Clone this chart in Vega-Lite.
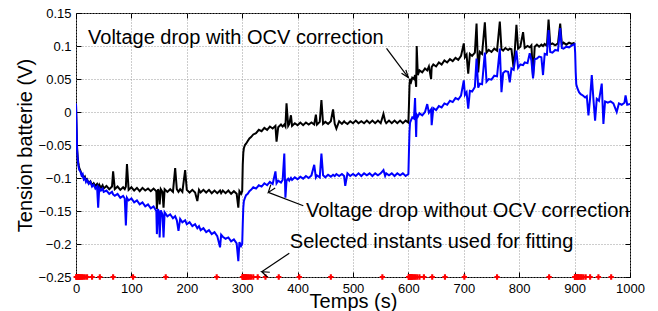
{
  "$schema": "https://vega.github.io/schema/vega-lite/v6.json",
  "width": 554,
  "height": 264,
  "autosize": {"type": "none"},
  "padding": {"left": 76, "top": 13, "right": 28, "bottom": 34},
  "background": "white",
  "config": {
    "font": "Liberation Sans",
    "view": {"stroke": "black", "strokeWidth": 1},
    "axis": {
      "domain": false,
      "tickColor": "black",
      "tickSize": -5,
      "labelPadding": 10,
      "labelFont": "Liberation Sans",
      "labelFontSize": 13,
      "labelColor": "black",
      "titleFont": "Liberation Sans",
      "titleFontSize": 20,
      "titleFontWeight": "normal",
      "titleColor": "black",
      "gridColor": "#9a9a9a",
      "gridDash": [1, 2],
      "gridWidth": 1
    }
  },
  "datasets": {
    "series": [
      {"t":0,"b":0.012,"u":0.013},
      {"t":1,"b":-0.025,"u":-0.02},
      {"t":2,"b":-0.055,"u":-0.058},
      {"t":3,"b":-0.068,"u":-0.07},
      {"t":4,"b":-0.076,"u":-0.079},
      {"t":5,"b":-0.081,"u":-0.084},
      {"t":6,"b":-0.085,"u":-0.088},
      {"t":8,"b":-0.089,"u":-0.09},
      {"t":10,"b":-0.094,"u":-0.096},
      {"t":12,"b":-0.096,"u":-0.094},
      {"t":14,"b":-0.1,"u":-0.102},
      {"t":16,"b":-0.098,"u":-0.1},
      {"t":18,"b":-0.104,"u":-0.106},
      {"t":20,"b":-0.102,"u":-0.103},
      {"t":23,"b":-0.108,"u":-0.109},
      {"t":26,"b":-0.105,"u":-0.106},
      {"t":29,"b":-0.111,"u":-0.113},
      {"t":32,"b":-0.108,"u":-0.11},
      {"t":35,"b":-0.112,"u":-0.116},
      {"t":38,"b":-0.109,"u":-0.113},
      {"t":40,"b":-0.114,"u":-0.145},
      {"t":42,"b":-0.11,"u":-0.115},
      {"t":45,"b":-0.115,"u":-0.119},
      {"t":48,"b":-0.111,"u":-0.116},
      {"t":50,"b":-0.116,"u":-0.121},
      {"t":55,"b":-0.112,"u":-0.119},
      {"t":60,"b":-0.117,"u":-0.124},
      {"t":65,"b":-0.113,"u":-0.121},
      {"t":67,"b":-0.09,"u":-0.125},
      {"t":70,"b":-0.117,"u":-0.127},
      {"t":75,"b":-0.113,"u":-0.124},
      {"t":80,"b":-0.118,"u":-0.13},
      {"t":85,"b":-0.114,"u":-0.127},
      {"t":88,"b":-0.117,"u":-0.131},
      {"t":90,"b":-0.113,"u":-0.172},
      {"t":92,"b":-0.079,"u":-0.13},
      {"t":95,"b":-0.118,"u":-0.134},
      {"t":100,"b":-0.114,"u":-0.131},
      {"t":105,"b":-0.119,"u":-0.137},
      {"t":110,"b":-0.115,"u":-0.134},
      {"t":115,"b":-0.12,"u":-0.14},
      {"t":120,"b":-0.115,"u":-0.137},
      {"t":125,"b":-0.119,"u":-0.143},
      {"t":130,"b":-0.116,"u":-0.14},
      {"t":135,"b":-0.12,"u":-0.146},
      {"t":140,"b":-0.116,"u":-0.143},
      {"t":145,"b":-0.12,"u":-0.15},
      {"t":146,"b":-0.147,"u":-0.185},
      {"t":148,"b":-0.117,"u":-0.147},
      {"t":150,"b":-0.121,"u":-0.153},
      {"t":151,"b":-0.14,"u":-0.19},
      {"t":153,"b":-0.117,"u":-0.149},
      {"t":156,"b":-0.121,"u":-0.155},
      {"t":158,"b":-0.145,"u":-0.19},
      {"t":160,"b":-0.117,"u":-0.152},
      {"t":165,"b":-0.121,"u":-0.158},
      {"t":170,"b":-0.117,"u":-0.155},
      {"t":175,"b":-0.121,"u":-0.161},
      {"t":179,"b":-0.085,"u":-0.158},
      {"t":182,"b":-0.117,"u":-0.164},
      {"t":185,"b":-0.121,"u":-0.18},
      {"t":188,"b":-0.117,"u":-0.162},
      {"t":192,"b":-0.121,"u":-0.167},
      {"t":197,"b":-0.088,"u":-0.164},
      {"t":200,"b":-0.118,"u":-0.17},
      {"t":205,"b":-0.122,"u":-0.167},
      {"t":210,"b":-0.118,"u":-0.173},
      {"t":215,"b":-0.122,"u":-0.17},
      {"t":219,"b":-0.135,"u":-0.176},
      {"t":222,"b":-0.118,"u":-0.173},
      {"t":225,"b":-0.122,"u":-0.179},
      {"t":230,"b":-0.118,"u":-0.176},
      {"t":235,"b":-0.122,"u":-0.182},
      {"t":240,"b":-0.118,"u":-0.179},
      {"t":245,"b":-0.123,"u":-0.185},
      {"t":250,"b":-0.119,"u":-0.182},
      {"t":255,"b":-0.123,"u":-0.188},
      {"t":260,"b":-0.119,"u":-0.205},
      {"t":262,"b":-0.123,"u":-0.186},
      {"t":265,"b":-0.119,"u":-0.189},
      {"t":270,"b":-0.123,"u":-0.192},
      {"t":275,"b":-0.119,"u":-0.19},
      {"t":280,"b":-0.124,"u":-0.196},
      {"t":285,"b":-0.12,"u":-0.193},
      {"t":290,"b":-0.124,"u":-0.199},
      {"t":293,"b":-0.145,"u":-0.226},
      {"t":295,"b":-0.12,"u":-0.197},
      {"t":298,"b":-0.124,"u":-0.203},
      {"t":300,"b":-0.12,"u":-0.2},
      {"t":301,"b":-0.08,"u":-0.17},
      {"t":302,"b":-0.062,"u":-0.145},
      {"t":303,"b":-0.055,"u":-0.135},
      {"t":305,"b":-0.05,"u":-0.13},
      {"t":307,"b":-0.048,"u":-0.126},
      {"t":310,"b":-0.044,"u":-0.124},
      {"t":313,"b":-0.04,"u":-0.12},
      {"t":316,"b":-0.038,"u":-0.118},
      {"t":320,"b":-0.034,"u":-0.114},
      {"t":325,"b":-0.032,"u":-0.116},
      {"t":330,"b":-0.027,"u":-0.111},
      {"t":335,"b":-0.029,"u":-0.113},
      {"t":340,"b":-0.024,"u":-0.108},
      {"t":345,"b":-0.027,"u":-0.111},
      {"t":350,"b":-0.022,"u":-0.106},
      {"t":355,"b":-0.025,"u":-0.109},
      {"t":360,"b":-0.021,"u":-0.09},
      {"t":362,"b":-0.045,"u":-0.108},
      {"t":365,"b":-0.023,"u":-0.104},
      {"t":370,"b":-0.019,"u":-0.107},
      {"t":373,"b":-0.022,"u":-0.103},
      {"t":376,"b":-0.019,"u":-0.063},
      {"t":378,"b":-0.022,"u":-0.13},
      {"t":380,"b":0.013,"u":-0.104},
      {"t":383,"b":-0.021,"u":-0.101},
      {"t":385,"b":-0.018,"u":-0.104},
      {"t":388,"b":-0.005,"u":-0.1},
      {"t":390,"b":-0.021,"u":-0.103},
      {"t":395,"b":-0.017,"u":-0.099},
      {"t":400,"b":-0.02,"u":-0.102},
      {"t":405,"b":-0.016,"u":-0.098},
      {"t":410,"b":-0.02,"u":-0.101},
      {"t":415,"b":-0.016,"u":-0.097},
      {"t":420,"b":-0.019,"u":-0.1},
      {"t":425,"b":-0.016,"u":-0.096},
      {"t":430,"b":-0.019,"u":-0.08},
      {"t":433,"b":-0.004,"u":-0.099},
      {"t":435,"b":-0.019,"u":-0.096},
      {"t":440,"b":-0.015,"u":-0.099},
      {"t":443,"b":0.018,"u":-0.063},
      {"t":446,"b":-0.018,"u":-0.096},
      {"t":450,"b":-0.015,"u":-0.099},
      {"t":455,"b":-0.018,"u":-0.095},
      {"t":460,"b":-0.014,"u":-0.098},
      {"t":464,"b":0.004,"u":-0.095},
      {"t":467,"b":-0.018,"u":-0.097},
      {"t":470,"b":-0.025,"u":-0.094},
      {"t":475,"b":-0.014,"u":-0.097},
      {"t":480,"b":-0.018,"u":-0.094},
      {"t":484,"b":-0.014,"u":-0.097},
      {"t":486,"b":-0.016,"u":-0.112},
      {"t":490,"b":-0.018,"u":-0.093},
      {"t":495,"b":-0.014,"u":-0.097},
      {"t":500,"b":-0.017,"u":-0.094},
      {"t":505,"b":-0.013,"u":-0.097},
      {"t":510,"b":-0.017,"u":-0.093},
      {"t":515,"b":-0.014,"u":-0.097},
      {"t":520,"b":-0.017,"u":-0.093},
      {"t":525,"b":-0.013,"u":-0.096},
      {"t":530,"b":-0.017,"u":-0.093},
      {"t":535,"b":-0.013,"u":-0.097},
      {"t":540,"b":-0.017,"u":-0.093},
      {"t":545,"b":-0.013,"u":-0.096},
      {"t":550,"b":-0.017,"u":-0.093},
      {"t":555,"b":-0.003,"u":-0.088},
      {"t":558,"b":-0.014,"u":-0.097},
      {"t":560,"b":-0.017,"u":-0.093},
      {"t":565,"b":-0.013,"u":-0.096},
      {"t":570,"b":-0.017,"u":-0.093},
      {"t":575,"b":-0.013,"u":-0.097},
      {"t":580,"b":-0.017,"u":-0.093},
      {"t":585,"b":-0.013,"u":-0.096},
      {"t":590,"b":-0.017,"u":-0.093},
      {"t":595,"b":-0.013,"u":-0.097},
      {"t":600,"b":-0.016,"u":-0.094},
      {"t":601,"b":0.01,"u":-0.06},
      {"t":602,"b":0.04,"u":-0.03},
      {"t":603,"b":0.05,"u":-0.016},
      {"t":605,"b":0.046,"u":-0.012},
      {"t":607,"b":0.052,"u":-0.008},
      {"t":610,"b":0.05,"u":-0.01},
      {"t":612,"b":0.056,"u":0.021},
      {"t":614,"b":0.038,"u":-0.038},
      {"t":615,"b":0.1,"u":-0.004},
      {"t":617,"b":0.056,"u":-0.007},
      {"t":620,"b":0.063,"u":-0.002},
      {"t":625,"b":0.06,"u":-0.005},
      {"t":630,"b":0.066,"u":0.0},
      {"t":634,"b":0.063,"u":0.012},
      {"t":637,"b":0.069,"u":-0.001},
      {"t":641,"b":0.05,"u":0.004},
      {"t":642,"b":0.068,"u":-0.02},
      {"t":645,"b":0.072,"u":0.006},
      {"t":650,"b":0.069,"u":0.003},
      {"t":655,"b":0.075,"u":0.009},
      {"t":660,"b":0.072,"u":0.007},
      {"t":665,"b":0.078,"u":0.013},
      {"t":670,"b":0.075,"u":0.011},
      {"t":675,"b":0.08,"u":0.017},
      {"t":680,"b":0.077,"u":0.015},
      {"t":685,"b":0.082,"u":0.021},
      {"t":690,"b":0.079,"u":0.019},
      {"t":695,"b":0.085,"u":0.025},
      {"t":700,"b":0.104,"u":0.048},
      {"t":702,"b":0.083,"u":0.026},
      {"t":705,"b":0.087,"u":0.03},
      {"t":708,"b":0.058,"u":0.005},
      {"t":711,"b":0.088,"u":0.032},
      {"t":715,"b":0.085,"u":0.031},
      {"t":720,"b":0.09,"u":0.038},
      {"t":723,"b":0.134,"u":0.081},
      {"t":726,"b":0.06,"u":0.037},
      {"t":729,"b":0.091,"u":0.043},
      {"t":733,"b":0.088,"u":0.042},
      {"t":738,"b":0.136,"u":0.09},
      {"t":741,"b":0.09,"u":0.046},
      {"t":745,"b":0.094,"u":0.05},
      {"t":750,"b":0.091,"u":0.049},
      {"t":755,"b":0.096,"u":0.055},
      {"t":760,"b":0.093,"u":0.054},
      {"t":765,"b":0.137,"u":0.096},
      {"t":768,"b":0.095,"u":0.03},
      {"t":771,"b":0.093,"u":0.059},
      {"t":775,"b":0.097,"u":0.062},
      {"t":780,"b":0.094,"u":0.061},
      {"t":783,"b":0.096,"u":0.045},
      {"t":786,"b":0.095,"u":0.066},
      {"t":790,"b":0.066,"u":0.064},
      {"t":795,"b":0.132,"u":0.093},
      {"t":798,"b":0.096,"u":0.067},
      {"t":802,"b":0.099,"u":0.072},
      {"t":807,"b":0.121,"u":0.071},
      {"t":810,"b":0.097,"u":0.075},
      {"t":815,"b":0.1,"u":0.074},
      {"t":819,"b":0.098,"u":0.089},
      {"t":822,"b":0.101,"u":0.078},
      {"t":825,"b":0.054,"u":0.051},
      {"t":828,"b":0.099,"u":0.08},
      {"t":832,"b":0.102,"u":0.081},
      {"t":836,"b":0.099,"u":0.084},
      {"t":840,"b":0.102,"u":0.083},
      {"t":843,"b":0.1,"u":0.056},
      {"t":846,"b":0.103,"u":0.088},
      {"t":850,"b":0.1,"u":0.087},
      {"t":853,"b":0.14,"u":0.124},
      {"t":856,"b":0.102,"u":0.091},
      {"t":860,"b":0.104,"u":0.09},
      {"t":865,"b":0.101,"u":0.094},
      {"t":870,"b":0.104,"u":0.093},
      {"t":874,"b":0.134,"u":0.127},
      {"t":877,"b":0.102,"u":0.097},
      {"t":880,"b":0.105,"u":0.096},
      {"t":885,"b":0.102,"u":0.099},
      {"t":890,"b":0.105,"u":0.098},
      {"t":895,"b":0.103,"u":0.101},
      {"t":900,"b":0.105,"u":0.103},
      {"t":901,"u":0.09},
      {"t":902,"u":0.06},
      {"t":903,"u":0.042},
      {"t":905,"u":0.036},
      {"t":908,"u":0.03},
      {"t":911,"u":0.027},
      {"t":915,"u":0.025},
      {"t":919,"u":0.022},
      {"t":922,"u":0.024},
      {"t":925,"u":-0.005},
      {"t":928,"u":0.021},
      {"t":931,"u":0.056},
      {"t":934,"u":0.019},
      {"t":937,"u":-0.013},
      {"t":940,"u":0.02},
      {"t":944,"u":0.017},
      {"t":949,"u":0.043},
      {"t":952,"u":-0.018},
      {"t":955,"u":0.016},
      {"t":960,"u":0.014},
      {"t":965,"u":0.016},
      {"t":970,"u":0.013},
      {"t":976,"u":0.0},
      {"t":980,"u":0.013},
      {"t":985,"u":0.011},
      {"t":990,"u":0.014},
      {"t":992,"u":0.025},
      {"t":995,"u":0.011},
      {"t":1000,"u":0.012}
    ],
    "selected": [
      {"t":0.5},{"t":1},{"t":1.5},{"t":2},{"t":3},{"t":4},{"t":5},{"t":6},{"t":7},{"t":9},{"t":11},{"t":13},{"t":16},{"t":20},{"t":29},{"t":43},{"t":67},{"t":103},{"t":162},{"t":254},
      {"t":300.5},{"t":301},{"t":301.5},{"t":302},{"t":303},{"t":304},{"t":305},{"t":306},{"t":307},{"t":309},{"t":311},{"t":313},{"t":316},{"t":320},{"t":328},{"t":342},{"t":366},{"t":403},{"t":460},{"t":553},
      {"t":600.5},{"t":601},{"t":601.5},{"t":602},{"t":603},{"t":604},{"t":605},{"t":606},{"t":607},{"t":609},{"t":611},{"t":613},{"t":616},{"t":620},{"t":628},{"t":643},{"t":666},{"t":701},{"t":760},{"t":854},
      {"t":900.5},{"t":901},{"t":901.5},{"t":902},{"t":903},{"t":904},{"t":905},{"t":906},{"t":907},{"t":909},{"t":911},{"t":913},{"t":916},{"t":920},{"t":928},{"t":943},{"t":966}
    ],
    "arrows": [
      {"id":"a1","t":560.5,"v":0.0963,"t2":600,"v2":0.0522},
      {"id":"a2","t":410.3,"v":-0.142,"t2":347.1,"v2":-0.1218},
      {"id":"a3","t":385,"v":-0.214,"t2":335.2,"v2":-0.2419}
    ],
    "labels": [
      {"t":21.7,"v":0.1024,"text":"Voltage drop with OCV correction"},
      {"t":415,"v":-0.1598,"text":"Voltage drop without OCV correction"},
      {"t":386,"v":-0.2054,"text":"Selected instants used for fitting"}
    ]
  },
  "resolve": {"axis": {"x": "independent", "y": "independent"}},
  "layer": [
    {
      "data": {"name": "series"},
      "mark": {"type": "line", "color": "black", "strokeWidth": 2, "clip": true},
      "encoding": {
        "x": {"field": "t", "type": "quantitative",
              "scale": {"domain": [0, 1000], "nice": false, "zero": false},
              "axis": {"title": "Temps (s)", "values": [0,100,200,300,400,500,600,700,800,900,1000], "format": "d", "grid": true, "titlePadding": -4, "labelFlush": false}},
        "y": {"field": "b", "type": "quantitative",
              "scale": {"domain": [-0.25, 0.15], "nice": false, "zero": false},
              "axis": {"title": "Tension batterie (V)", "values": [-0.25,-0.2,-0.15,-0.1,-0.05,0,0.05,0.1,0.15], "format": "~g", "grid": true, "titlePadding": 3, "labelFlush": false}}
      }
    },
    {
      "data": {"name": "series"},
      "mark": {"type": "line", "color": "#0000ff", "strokeWidth": 2, "clip": true},
      "encoding": {
        "x": {"field": "t", "type": "quantitative", "axis": null},
        "y": {"field": "u", "type": "quantitative", "axis": null}
      }
    },
    {
      "data": {"name": "selected"},
      "mark": {"type": "point", "shape": "cross", "filled": true, "color": "#ff0000", "size": 28, "opacity": 1},
      "encoding": {
        "x": {"field": "t", "type": "quantitative",
              "axis": {"orient": "top", "title": null, "labels": false, "grid": false, "values": [0,100,200,300,400,500,600,700,800,900,1000]}},
        "y": {"datum": -0.25, "type": "quantitative",
              "axis": {"orient": "right", "title": null, "labels": false, "grid": false, "values": [-0.25,-0.2,-0.15,-0.1,-0.05,0,0.05,0.1,0.15]}}
      }
    },
    {
      "data": {"name": "arrows"},
      "mark": {"type": "rule", "color": "black", "strokeWidth": 1.2},
      "encoding": {
        "x": {"field": "t", "type": "quantitative", "axis": null},
        "y": {"field": "v", "type": "quantitative", "axis": null},
        "x2": {"field": "t2"},
        "y2": {"field": "v2"}
      }
    },
    {
      "data": {"name": "arrows"},
      "mark": {"type": "point", "shape": "M-0.45,1.25L0,0L0.45,1.25", "filled": false, "color": "black", "strokeWidth": 1.2, "size": 150, "opacity": 1},
      "encoding": {
        "x": {"field": "t2", "type": "quantitative", "axis": null},
        "y": {"field": "v2", "type": "quantitative", "axis": null},
        "angle": {"field": "id", "type": "nominal", "scale": {"domain": ["a1","a2","a3"], "range": [142, 294, 236]}, "legend": null}
      }
    },
    {
      "data": {"name": "labels"},
      "mark": {"type": "text", "align": "left", "baseline": "alphabetic", "font": "Liberation Sans", "fontSize": 20, "color": "black"},
      "encoding": {
        "x": {"field": "t", "type": "quantitative", "axis": null},
        "y": {"field": "v", "type": "quantitative", "axis": null},
        "text": {"field": "text"}
      }
    }
  ]
}
